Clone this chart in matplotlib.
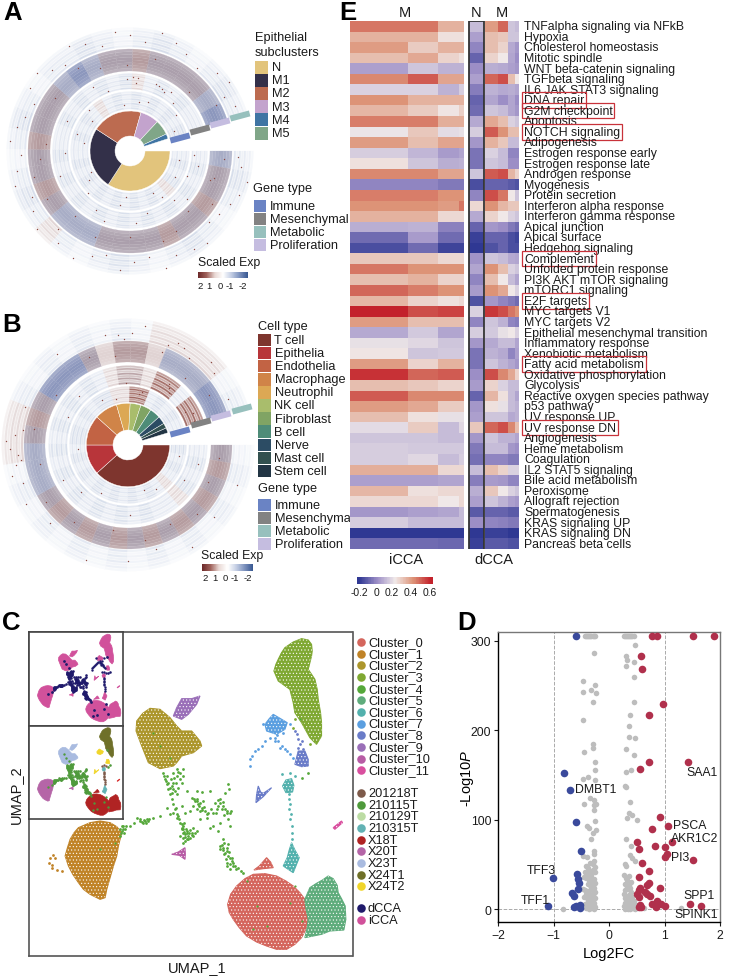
import numpy as np
import matplotlib
matplotlib.use('Agg')
import matplotlib.pyplot as plt
from matplotlib.collections import PatchCollection
from matplotlib.colors import LinearSegmentedColormap
from matplotlib.patches import Polygon, Rectangle, Wedge

plt.rcParams['font.family'] = ['Liberation Sans', 'DejaVu Sans']
plt.rcParams['mathtext.fontset'] = 'custom'
plt.rcParams['mathtext.it'] = 'Liberation Sans:italic'
plt.rcParams['mathtext.rm'] = 'Liberation Sans'
plt.rcParams['hatch.linewidth'] = 0.4

# ---- panel A / B: pie fractions given as boundary angles (deg, clockwise from 0)
epi_names = ['N', 'M1', 'M2', 'M3', 'M4', 'M5']
epi_colors = ['#e2c47c', '#333049', '#bc6b50', '#c3a3cd', '#3f74a3', '#80a688']
epi_order = ['N', 'M1', 'M2', 'M3', 'M5', 'M4']
epi_edges = [0, 123, 213, 286, 313, 335, 342]

cell_names = ['T cell', 'Epithelia', 'Endothelia', 'Macrophage', 'Neutrophil', 'NK cell',
              'Fibroblast', 'B cell', 'Nerve', 'Mast cell', 'Stem cell']
cell_colors = ['#7e352e', '#b8353a', '#c26344', '#d08448', '#dca854', '#a9bd6c',
               '#80a464', '#4e8c78', '#2c4c64', '#32504f', '#223544']
cell_edges = [0, 138, 180, 222, 254, 273, 288, 303, 318, 329, 336, 343]

gene_names = ['Immune', 'Mesenchymal', 'Metabolic', 'Proliferation']
gene_colors = ['#6a83c4', '#828282', '#97c0bd', '#c5bde0']

# ring shades, one letter for each angular bin
shades = {'w': '#eef1f7', 'p': '#e2e7f1', 'l': '#d5dcea', 'b': '#a8adc6', 'd': '#8c97bd',
          'g': '#ab9fac', 'r': '#b59c9f', 's': '#e0d3d3', 'R': '#9a5f58'}

a_immune = 'plplsplplplplplplpplplpsplplplplpl'
a_mesen = 'plplplplplplplplplpplplplplsplplpp'
a_prolif = 'bggrggrggggbbbgrggrgggbdbggrggggbd'
a_metab = 'plpwplpwplpwpsplpwplpwpplpwplpwplp'
b_immune = 'lplpsplplplplplplpllplpllssRRplplp'
b_mesen = 'plplspplplplplplplplplplpsrrsRRpRR'
b_prolif = 'grgrgrgrgrgrgrgbbbgrgdddgsrrsbbbdd'
b_metab = 'wpwpwpwpwpwpwpwpwssspwpwpwpwsssswp'

# row strength, inner row first
row_metab = [0.95, 0.55, 0.85, 0.55, 0.8, 0.45, 0.6, 0.3]
row_prolif = [0.8, 0.9, 0.95, 1.0, 1.0, 0.95, 0.9, 0.8]
row_mesen = [0.9, 0.5, 0.9, 0.6, 0.9, 0.5, 0.8, 0.6]
row_immune = [0.8, 0.6, 0.95, 0.55, 0.85, 0.6, 0.9, 0.6]
row_gaps = {'inner': 0.72, 'dense': 1.0}

a_specks = [(-8, 112), (-22, 118), (-35, 109), (-50, 120), (-66, 114), (-80, 108), (-95, 119), (-110, 112),
            (-128, 117), (-140, 122), (-155, 108), (-170, 115), (-185, 120), (-198, 110), (-212, 118), (-226, 113),
            (-240, 121), (-255, 109), (-270, 116), (-285, 122), (-300, 112), (-318, 117), (-330, 108), (-12, 70),
            (-30, 52), (-48, 66), (-62, 48), (-85, 72), (-100, 55), (-120, 68), (-145, 50), (-160, 74), (-190, 47),
            (-205, 70), (-225, 58), (-240, 74), (-262, 46), (-275, 68), (-290, 52), (-305, 72), (-322, 58),
            (-297, 70), (-294, 71), (-291, 72), (-300, 68), (-175, 90), (-60, 92), (-150, 96), (-250, 88), (-20, 85),
            (-3, 108), (-15, 121), (-28, 113), (-42, 106), (-57, 117), (-73, 122), (-88, 111), (-103, 107),
            (-118, 121), (-133, 106), (-148, 114), (-163, 120), (-178, 109), (-192, 116), (-206, 107), (-220, 122),
            (-233, 108), (-247, 116), (-263, 120), (-278, 110), (-293, 117), (-309, 107), (-325, 121), (-337, 114),
            (-5, 94), (-18, 88), (-33, 98), (-46, 84), (-70, 96), (-90, 86), (-112, 93), (-130, 85), (-165, 99),
            (-185, 84), (-215, 92), (-238, 98), (-268, 86), (-285, 95), (-315, 83), (-332, 97), (-10, 50), (-24, 62),
            (-40, 75), (-55, 56), (-75, 64), (-95, 46), (-110, 75), (-135, 60), (-152, 44), (-178, 65), (-198, 56),
            (-218, 48), (-250, 64), (-280, 50), (-312, 64), (-336, 48), (-4, 64), (-268, 72), (-272, 74), (-276, 73)]
b_specks = [(-20, 116), (-40, 112), (-58, 120), (-75, 108), (-90, 116), (-110, 122), (-135, 110), (-150, 118),
            (-160, 112), (-172, 108), (-178, 118), (-185, 113), (-200, 110), (-232, 116), (-258, 112), (-278, 120),
            (-300, 112), (-315, 118), (-335, 110), (-15, 72), (-32, 66), (-58, 52), (-88, 70), (-120, 55), (-152, 74),
            (-205, 66), (-240, 52), (-268, 62), (-8, 92), (-25, 88), (-45, 98), (-62, 90), (-80, 96), (-100, 86),
            (-125, 94), (-145, 100), (-168, 90), (-190, 95), (-215, 88), (-246, 96), (-262, 90), (-290, 99),
            (-310, 88), (-328, 95), (-165, 120), (-170, 114), (-175, 110), (-182, 122), (-188, 106), (-265, 110),
            (-268, 106), (-272, 112), (-292, 108), (-296, 114), (-305, 106), (-320, 112), (-12, 52), (-70, 48),
            (-135, 66), (-175, 50), (-225, 70), (-255, 48), (-340, 70), (-306, 70), (-308, 66), (-304, 74),
            (-334, 72), (-330, 66), (-282, 52), (-285, 55)]

# ---- panel E
pathways = ['TNFalpha signaling via NFkB', 'Hypoxia', 'Cholesterol homeostasis', 'Mitotic spindle',
            'WNT beta-catenin signaling', 'TGFbeta signaling', 'IL6 JAK STAT3 signaling', 'DNA repair',
            'G2M checkpoint', 'Apoptosis', 'NOTCH signaling', 'Adipogenesis', 'Estrogen response early',
            'Estrogen response late', 'Androgen response', 'Myogenesis', 'Protein secretion',
            'Interferon alpha response', 'Interferon gamma response', 'Apical junction', 'Apical surface',
            'Hedgehog signaling', 'Complement', 'Unfolded protein response', 'PI3K AKT mTOR signaling',
            'mTORC1 signaling', 'E2F targets', 'MYC targets V1', 'MYC targets V2',
            'Epithelial mesenchymal transition', 'Inflammatory response', 'Xenobiotic metabolism',
            'Fatty acid metabolism', 'Oxidative phosphorylation', 'Glycolysis',
            'Reactive oxygen species pathway', 'p53 pathway', 'UV response UP', 'UV response DN',
            'Angiogenesis', 'Heme metabolism', 'Coagulation', 'IL2 STAT5 signaling', 'Bile acid metabolism',
            'Peroxisome', 'Allograft rejection', 'Spermatogenesis', 'KRAS signaling UP', 'KRAS signaling DN',
            'Pancreas beta cells']
boxed = ['DNA repair', 'G2M checkpoint', 'NOTCH signaling', 'Complement', 'E2F targets',
         'Fatty acid metabolism', 'UV response DN']

icca_vals = [[.45, .45, .33, .33], [.33, .33, .22, .22], [.38, .27, .33, .33], [.30, .35, .25, .22],
             [.04, .12, .08, .08], [.42, .50, .36, .36], [.15, .15, .08, .14], [.40, .33, .33, .33],
             [.32, .27, .21, .26], [.44, .44, .34, .34], [.19, .28, .17, .18], [.38, .30, .36, .36],
             [.14, .09, .03, .05], [.22, .12, .07, .08], [.42, .42, .36, .36], [-.02, -.02, -.05, -.05],
             [.44, .44, .40, .40], [.40, .40, .38, .45], [.33, .33, .24, .24], [.07, .08, -.03, -.03],
             [-.08, .03, -.08, -.08], [-.15, -.08, -.17, -.17], [.28, .28, .24, .24], [.45, .40, .40, .40],
             [.30, .33, .25, .25], [.48, .44, .40, .40], [.32, .25, .22, .24], [.60, .52, .54, .54],
             [.38, .30, .30, .30], [.06, .13, .05, .05], [.18, .16, .12, .12], [.21, .12, .13, .13],
             [.38, .25, .33, .33], [.57, .48, .50, .50], [.30, .28, .25, .25], [.50, .42, .42, .42],
             [.38, .35, .27, .27], [.30, .22, .18, .18], [.17, .27, .10, .16], [.12, .12, .10, .10],
             [.14, .13, .13, .13], [.14, .16, .10, .14], [.34, .34, .24, .24], [.04, .04, .05, .05],
             [.32, .22, .24, .24], [.24, .24, .20, .24], [.02, .04, .05, .10], [.14, .10, .10, .10],
             [-.22, -.22, -.22, -.22], [-.08, -.08, -.09, -.09]]
normal_vals = [.10, .04, -.02, -.10, 0, .04, -.04, -.10, -.08, .06, .14, .02, -.06, -.06, .12, -.15, -.02,
               .24, .06, -.10, -.18, -.20, .01, .05, -.02, .03, -.14, .15, -.02, .14, .02, -.06, -.06, 0,
               .03, -.10, .02, .04, .28, .02, -.05, -.07, .10, -.04, .07, .04, -.12, 0, -.20, -.18]
dcca_vals = [[.38, .48, .12, .10], [.30, .28, .12, .12], [.30, .25, .06, .02], [.25, .20, .05, 0],
             [.07, .06, .04, .02], [.48, .52, .30, .20], [.08, .06, .07, .05], [.05, 0, .05, 0],
             [.12, .10, .05, .02], [.35, .30, .15, .12], [.50, .40, .30, .30], [.33, .28, .10, .10],
             [.15, .10, -.02, -.02], [.12, .10, 0, 0], [.50, .52, .32, .25], [-.10, -.10, -.12, -.14],
             [.52, .45, .20, .12], [.40, .32, .28, .28], [.25, .20, .15, .12], [.02, 0, -.05, -.08],
             [-.10, -.10, -.15, -.17], [-.14, -.10, -.15, -.15], [.12, .10, .06, .05], [.40, .30, .15, .12],
             [.30, .20, .10, .05], [.40, .35, .20, .15], [.02, -.02, -.05, -.08], [.56, .52, .45, .40],
             [.12, .08, -.02, -.04], [.13, .18, .20, .15], [.06, .10, .10, .05], [.08, .06, -.02, .04],
             [.12, .08, .05, .02], [.52, .42, .35, .25], [.25, .15, .10, .10], [.32, .22, .10, .05],
             [.22, .18, .10, .08], [.12, .12, .06, .08], [.48, .52, .42, .30], [.12, .08, .08, .05],
             [.10, .10, .02, 0], [-.02, -.02, -.05, -.05], [.30, .25, .15, .15], [.03, .02, -.02, -.02],
             [.28, .20, .15, .12], [.12, .08, .04, .02], [-.10, -.10, -.12, -.12], [-.02, -.03, -.05, -.05],
             [-.18, -.18, -.20, -.20], [-.12, -.12, -.14, -.14]]

# ---- panel C (reference pixel scale, no real units on the axes)
cluster_names = ['Cluster_%d' % i for i in range(12)]
cluster_colors = ['#d4665d', '#c08327', '#ac962c', '#7fa832', '#55a83a', '#5fac7c',
                  '#53b1ad', '#5b9fe0', '#6a7cc8', '#9a6fb8', '#b75ca5', '#d94f9f']
sample_names = ['201218T', '210115T', '210129T', '210315T', 'X18T', 'X20T', 'X23T', 'X24T1', 'X24T2']
sample_colors = ['#7d5a4a', '#4f9a3c', '#bcdca4', '#62b2b4', '#b02323', '#b565a7', '#a9bbe0', '#6f7029', '#f0d52a']
type_names = ['dCCA', 'iCCA']
type_colors = ['#1f1a6b', '#d1519b']

blob_0 = [(760, 795), (795, 793), (830, 800), (858, 815), (880, 830), (900, 850), (915, 870), (925, 900), (925, 930),
          (918, 960), (905, 985), (885, 1005), (860, 1020), (830, 1020), (800, 1010), (770, 998), (740, 980),
          (718, 955), (700, 930), (688, 910), (683, 885), (692, 855), (710, 830), (735, 808)]
blob_0b = [(762, 782), (778, 770), (800, 745), (812, 758), (820, 775), (790, 778)]
blob_1 = [(270, 640), (300, 635), (330, 640), (350, 652), (365, 670), (360, 690), (355, 710), (350, 740), (340, 770),
          (330, 805), (320, 840), (315, 865), (300, 870), (270, 855), (250, 840), (235, 820), (218, 795), (205, 770),
          (195, 740), (202, 715), (210, 690), (222, 670), (235, 655)]
blob_2 = [(450, 297), (480, 300), (510, 325), (530, 350), (545, 365), (575, 365), (600, 395), (605, 410), (580, 430),
          (545, 440), (530, 460), (520, 470), (480, 478), (445, 460), (435, 435), (425, 410), (408, 365), (410, 335),
          (428, 312)]
blob_3 = [(905, 88), (925, 92), (935, 105), (937, 125), (935, 140), (925, 180), (945, 210), (952, 240), (955, 270),
          (962, 310), (965, 340), (965, 380), (950, 405), (930, 385), (905, 340), (885, 310), (880, 280), (870, 240),
          (835, 215), (822, 185), (828, 165), (835, 150), (845, 130), (855, 115), (880, 98)]
blob_5 = [(985, 800), (1000, 808), (1012, 828), (1015, 850), (1025, 868), (1036, 890), (1038, 930), (1032, 962),
          (990, 965), (965, 975), (940, 980), (915, 985), (922, 955), (925, 930), (918, 895), (915, 870), (930, 835),
          (950, 822), (968, 812)]
blob_6a = [(858, 512), (875, 508), (882, 528), (878, 548), (858, 550), (848, 530)]
blob_6b = [(875, 700), (885, 722), (898, 745), (888, 770), (880, 790), (862, 778), (850, 770), (862, 745), (868, 722)]
blob_7 = [(795, 345), (808, 328), (820, 315), (842, 328), (862, 340), (855, 360), (830, 375), (800, 365)]
blob_8a = [(775, 530), (782, 548), (790, 552), (815, 535), (790, 562), (768, 580), (770, 555)]
blob_8b = [(895, 425), (915, 425), (925, 450), (925, 470), (905, 472), (885, 465)]
blob_9 = [(545, 268), (575, 268), (600, 260), (590, 285), (565, 315), (545, 330), (520, 320), (530, 295)]
blob_10 = [(515, 735), (535, 728), (555, 715), (556, 735), (555, 750), (538, 738)]
blob_11 = [(1000, 655), (1025, 635), (1028, 640), (1005, 660)]

trail_1 = [(150, 745), (160, 738), (165, 745), (148, 760), (155, 775), (170, 782), (185, 785), (155, 768)]
trail_4 = [(490, 490), (495, 510), (500, 525), (505, 540), (510, 555), (515, 570), (520, 585), (525, 600),
           (530, 615), (538, 630), (545, 645), (550, 660), (555, 675), (560, 690), (550, 700), (565, 680),
           (575, 670), (590, 665), (580, 655), (520, 490), (530, 500), (540, 510), (520, 520), (535, 535),
           (550, 480), (548, 500), (515, 530), (500, 500), (575, 565), (585, 575), (595, 585), (605, 595),
           (615, 605), (625, 610), (640, 610), (650, 600), (660, 580), (670, 590), (680, 605), (690, 612),
           (660, 570), (675, 550), (685, 525), (688, 540), (630, 545), (605, 548), (620, 625), (640, 650),
           (655, 665), (670, 690), (660, 710), (680, 725), (690, 745), (700, 760), (715, 775), (730, 790),
           (680, 770), (690, 780), (670, 715), (685, 705), (435, 635), (420, 630), (445, 635), (410, 625),
           (460, 625), (480, 620), (390, 650), (370, 650), (365, 665), (375, 660), (360, 680), (520, 610),
           (510, 615), (530, 625), (570, 605), (600, 605), (610, 575), (590, 600), (545, 590), (555, 610),
           (690, 650), (660, 640), (630, 655), (685, 630), (545, 660), (560, 665), (570, 685), (540, 680),
           (580, 680), (600, 628), (500, 595), (560, 545), (590, 545), (550, 650), (558, 658), (568, 672),
           (548, 670), (590, 575), (600, 580), (580, 590), (612, 592), (668, 578), (675, 600), (692, 606),
           (672, 700), (680, 715), (695, 755), (705, 770), (690, 765), (525, 545), (512, 510), (530, 480),
           (540, 490), (370, 658), (362, 672), (440, 628), (430, 640), (925, 490), (905, 505),
           (552, 668), (556, 682), (562, 672), (570, 662), (548, 685), (556, 695), (545, 655), (575, 678), (585, 672),
           (565, 690), (552, 640), (540, 640), (535, 620), (528, 595), (515, 550), (510, 535), (498, 515), (492, 500),
           (505, 520), (522, 505), (535, 488), (528, 520), (545, 520), (518, 540), (530, 555), (582, 568), (592, 568),
           (598, 590), (605, 602), (620, 615), (632, 600), (648, 610), (655, 590), (665, 600), (680, 610), (672, 618),
           (655, 572), (645, 580), (665, 708), (668, 722), (675, 732), (685, 740), (678, 750), (695, 745), (682, 760),
           (700, 770), (708, 778), (722, 785), (660, 720), (672, 735), (688, 728), (365, 650), (378, 650), (372, 670),
           (360, 660), (432, 632), (425, 638), (438, 640), (448, 630), (420, 635), (402, 640)]
trail_6 = [(868, 555), (868, 570), (870, 585), (868, 600), (872, 615), (870, 630), (875, 650), (875, 670),
           (876, 690), (845, 495), (870, 490), (885, 500)]
trail_7 = [(750, 450), (755, 440), (765, 425), (775, 420), (785, 410), (795, 395), (810, 385), (825, 385),
           (835, 395), (845, 410), (860, 425), (870, 435), (880, 445), (790, 345), (850, 370), (870, 345),
           (750, 470), (840, 415), (830, 378), (855, 418), (825, 395)]
trail_8 = [(890, 375), (895, 390), (900, 405), (910, 420), (885, 365), (905, 395), (895, 415), (770, 570)]
trail_3 = [(930, 405), (918, 340), (905, 325), (885, 330), (880, 355)]
green_specks = [(300, 720), (345, 700), (480, 410), (510, 445), (460, 370), (740, 815), (770, 890), (800, 950),
                (870, 880), (760, 960), (905, 935), (885, 830), (900, 330)]

# ---- panel D, values
red_pts = [(.78, 306), (.87, 306), (1.51, 306), (1.90, 306), (.57, 283), (.59, 269), (.98, 229), (.71, 217),
           (.72, 165), (.56, 157), (1.42, 164), (.91, 103), (1.06, 93), (.78, 90), (.51, 75), (.53, 67), (.82, 71),
           (1.0, 69), (1.14, 75), (1.05, 62), (1.01, 58), (1.51, 55), (.59, 52), (.71, 43), (.54, 36), (.71, 29),
           (.68, 27), (.56, 24), (.92, 24), (.53, 21), (.51, 17), (.65, 19), (.68, 17), (.74, 15), (.53, 13),
           (.77, 6), (.86, 9), (.93, 6), (1.0, 3), (.85, 2), (1.46, 6), (1.65, 3), (.56, 4), (.53, 2), (.57, 2)]
blue_pts = [(-.60, 306), (-.81, 152), (-.70, 133), (-.60, 97), (-.50, 65), (-1.02, 35), (-.58, 39), (-.57, 34),
            (-.54, 29), (-.57, 22), (-.67, 18), (-.64, 15), (-1.11, 3), (-.63, 2), (-.60, 3), (-.53, 4), (-.53, 1)]
grey_top = [-.44, -.42, -.40, -.38, -.36, -.34, -.32, -.30, -.28, -.26,
            .26, .28, .30, .32, .34, .36, .38, .40, .42, .44]
grey_pts = [(.47, 296), (-.27, 287), (.30, 283), (.32, 279), (.44, 276), (.31, 272), (.45, 260), (-.47, 255),
            (-.26, 251), (-.33, 245), (-.47, 243), (-.24, 242), (-.29, 232), (.45, 232), (.37, 217), (-.47, 212),
            (.35, 205), (.36, 193), (.47, 191), (-.29, 185), (-.29, 180), (.30, 179), (-.45, 176), (.44, 172),
            (-.25, 165), (.39, 156), (-.25, 156), (.30, 153), (-.39, 148), (-.47, 146), (-.25, 144), (.29, 138),
            (.31, 137), (-.35, 124), (-.27, 122), (-.45, 118), (.38, 120), (-.24, 117), (-.28, 116), (-.27, 111),
            (.35, 107), (.42, 105), (.33, 102), (.50, 100), (-.25, 99), (-.40, 93), (-.36, 91), (-.24, 89),
            (-.29, 85), (-.32, 78), (.30, 78), (.39, 70), (-.27, 65), (-.27, 62), (.38, 60), (-.47, 59), (-.40, 58),
            (.41, 57), (.47, 54), (.28, 50), (.31, 48), (-.84, 0), (1.29, 1)]
grey_low_left = [(-.42, 48), (-.38, 46), (-.35, 52), (-.30, 50), (-.27, 54), (-.25, 47), (-.44, 42), (-.40, 40),
                 (-.36, 43), (-.33, 38), (-.29, 44), (-.26, 41), (-.46, 36), (-.41, 35), (-.37, 33), (-.34, 36),
                 (-.31, 31), (-.28, 34), (-.25, 29), (-.39, 28), (-.35, 27), (-.32, 25), (-.30, 26), (-.27, 23),
                 (-.48, 22), (-.43, 21), (-.38, 20), (-.33, 22), (-.29, 18), (-.26, 19), (-.41, 17), (-.36, 16),
                 (-.31, 15), (-.27, 14), (-.45, 13), (-.40, 12), (-.35, 11), (-.30, 10), (-.26, 12), (-.38, 9),
                 (-.33, 8), (-.28, 7), (-.43, 6), (-.37, 5), (-.32, 4), (-.27, 5), (-.40, 3), (-.35, 2), (-.30, 1),
                 (-.25, 2), (-.42, 1), (-.37, 0), (-.33, 1), (-.28, 0)]
grey_low_right = [(.27, 38), (.30, 35), (.33, 32), (.36, 37), (.39, 30), (.28, 28), (.32, 25), (.35, 27), (.38, 24),
                  (.29, 21), (.34, 22), (.40, 19), (.27, 17), (.31, 15), (.36, 16), (.42, 14), (.29, 12), (.33, 10),
                  (.38, 11), (.45, 9), (.28, 7), (.35, 8), (.41, 6), (.48, 5), (.31, 4), (.37, 3), (.44, 4), (.27, 3),
                  (.33, 2), (.39, 2), (.46, 3), (.30, 1), (.36, 1), (.43, 1), (.28, 0), (.34, 0), (.40, 1), (.50, 2),
                  (.32, 1), (.38, 0), (.62, 1), (.47, 0)]
volcano_labels = [('SAA1', 1.68, 153), ('DMBT1', -.24, 134), ('PSCA', 1.46, 94), ('AKR1C2', 1.54, 80),
                  ('PI3', 1.28, 58), ('TFF3', -1.23, 44), ('TFF1', -1.34, 10.5), ('SPP1', 1.62, 16),
                  ('SPINK1', 1.57, -6)]

W, H = 734, 978
fig = plt.figure(figsize=(W / 100, H / 100), dpi=100)
page = fig.add_axes([0, 0, 1, 1])
page.set_xlim(0, W)
page.set_ylim(0, H)
page.axis('off')


def Y(py):
    return H - py


def px_axes(x0, y0, x1, y1):
    return fig.add_axes([x0 / W, (H - y1) / H, (x1 - x0) / W, (y1 - y0) / H])


def label(x, y, s, size=9.2, **kw):
    kw.setdefault('va', 'center')
    page.text(x, Y(y), s, fontsize=size, color=kw.pop('color', '#1a1a1a'), **kw)


def draw_rings(cx, cy, tracks, specks, sweep=342):
    patches = []
    for r0, r1, strip, rows, fill in tracks:
        step = (r1 - r0) / len(rows)
        bin_w = sweep / len(strip)
        for j, alpha in enumerate(rows):
            for i, ch in enumerate(strip):
                c = np.array(matplotlib.colors.to_rgb(shades[ch]))
                c = 1 - (1 - c) * alpha
                patches.append(Wedge((cx, cy), r0 + step * (j + fill), -(i + 1) * bin_w, -i * bin_w,
                                     width=step * fill, facecolor=c, edgecolor=c, linewidth=0.15))
    page.add_collection(PatchCollection(patches, match_original=True, zorder=2))
    ang = np.radians([s[0] for s in specks])
    rad = np.array([s[1] for s in specks])
    page.scatter(cx + rad * np.cos(ang), cy + rad * np.sin(ang), s=1.0, color='#8e4a42', linewidths=0, zorder=3)


def draw_pie(cx, cy, r, hole, edges, colors):
    for k, col in enumerate(colors):
        page.add_patch(Wedge((cx, cy), r, -edges[k + 1], -edges[k], width=r - hole, facecolor=col,
                             edgecolor='white', linewidth=0.3, zorder=4))


def draw_tags(centers):
    for (x, y), col in zip(centers, [gene_colors[0], gene_colors[1], gene_colors[3], gene_colors[2]]):
        a = np.radians(15)
        ux, uy = np.cos(a) * 10, np.sin(a) * 10
        vx, vy = -np.sin(a) * 3, np.cos(a) * 3
        yy = Y(y)
        page.add_patch(Polygon([(x - ux - vx, yy - uy - vy), (x + ux - vx, yy + uy - vy),
                                (x + ux + vx, yy + uy + vy), (x - ux + vx, yy - uy + vy)],
                               facecolor=col, edgecolor='none', zorder=4))


def swatches(x, y0, dy, names, colors, size=12, tx=None, fs=9.2):
    for i, (n, c) in enumerate(zip(names, colors)):
        page.add_patch(Rectangle((x, Y(y0 + i * dy + size / 2)), size, size, facecolor=c, edgecolor='none'))
        label(x + size + 4 if tx is None else tx, y0 + i * dy, n, size=fs)


exp_cmap = LinearSegmentedColormap.from_list('exp', ['#6e2b2b', '#a0635c', '#e8d8d4', '#ffffff',
                                                     '#c5cfe4', '#7f94bf', '#3b5a93'])


def scaled_bar(x0, x1, y0, y1, ticks_x, tick_y, title_x, title_y):
    ax = px_axes(x0, y0, x1, y1)
    ax.pcolormesh(np.linspace(0, 1, 51), [0, 1], np.linspace(0, 1, 50)[None, :], cmap=exp_cmap, vmin=0, vmax=1)
    ax.axis('off')
    label(title_x, title_y, 'Scaled Exp', size=8.8)
    for tx, s in zip(ticks_x, ['2', '1', '0', '-1', '-2']):
        label(tx, tick_y, s, size=6.8, ha='center')


# panel A
cxa, cya = 130, Y(152)
draw_rings(cxa, cya, [(42, 60, a_immune, row_immune, row_gaps['inner']), (62, 78, a_mesen, row_mesen, row_gaps['inner']),
                      (80, 102, a_prolif, row_prolif, row_gaps['dense']), (104, 124, a_metab, row_metab, row_gaps['inner'])],
           a_specks)
draw_pie(cxa, cya, 40, 15, epi_edges, [epi_colors[epi_names.index(n)] for n in epi_order])
draw_tags([(180, 139), (200, 131), (220, 124), (240, 117)])
label(255, 38, 'Epithelial')
label(255, 53, 'subclusters')
swatches(255, 68, 13.2, epi_names, epi_colors, size=13)
label(253, 189, 'Gene type')
swatches(254, 207, 13, gene_names, gene_colors, size=12)
scaled_bar(198, 248, 273, 279, [200, 209, 220, 230, 243], 287, 198, 263)

# panel B
cxb, cyb = 128, Y(446)
draw_rings(cxb, cyb, [(43, 59, b_immune, row_immune, row_gaps['inner']), (61, 80, b_mesen, row_mesen, row_gaps['inner']),
                      (83, 104, b_prolif, row_prolif, row_gaps['dense']), (105, 127, b_metab, row_metab, row_gaps['inner'])],
           b_specks)
draw_pie(cxb, cyb, 41.7, 15, cell_edges, cell_colors)
draw_tags([(180, 433), (201, 424), (221, 417), (242, 410)])
label(258, 327, 'Cell type')
swatches(258, 341, 13.1, cell_names, cell_colors, size=12.5)
label(258, 489, 'Gene type')
swatches(258, 506, 13, gene_names, gene_colors, size=12.5)
scaled_bar(202, 253, 565, 572, [205, 215, 225, 235, 248], 579, 201, 556)

# panel E
heat_cmap = LinearSegmentedColormap.from_list('heat', [(0, '#2f3893'), (0.25, '#9c8ec6'), (0.5, '#f0e9e9'),
                                                       (0.75, '#dd9478'), (1, '#c3212b')])
icca_edges = [350, 408, 438, 459, 464]
dcca_edges = [485, 498, 508, 515, 519]
top, bottom = 22, 550
row_edges = np.linspace(top, bottom, len(pathways) + 1)
eax = px_axes(348, top, 522, bottom)
eax.set_xlim(348, 522)
eax.set_ylim(bottom, top)
eax.axis('off')
eax.pcolormesh(icca_edges, row_edges, np.array(icca_vals), cmap=heat_cmap, vmin=-.2, vmax=.6)
eax.pcolormesh([469, 484], row_edges, np.array(normal_vals)[:, None], cmap=heat_cmap, vmin=-.2, vmax=.6)
eax.pcolormesh(dcca_edges, row_edges, np.array(dcca_vals), cmap=heat_cmap, vmin=-.2, vmax=.6)
eax.add_patch(Rectangle((468.5, top - .5), 15.5, bottom - top + 1, fill=False, edgecolor='#333333', linewidth=1.3))
for name, y in zip(pathways, (row_edges[:-1] + row_edges[1:]) / 2):
    box = dict(facecolor='none', edgecolor='#c8323a', linewidth=0.9, pad=1.2) if name in boxed else None
    label(524, y, name, size=8.8, bbox=box)
label(405, 13, 'M', size=10.5, ha='center')
label(476, 13, 'N', size=10.5, ha='center')
label(502, 13, 'M', size=10.5, ha='center')
label(406, 560, 'iCCA', size=10.5, ha='center')
label(494, 560, 'dCCA', size=10.5, ha='center')
cbar = px_axes(357, 578, 433, 585)
cbar.pcolormesh(np.linspace(-.22, .62, 101), [0, 1], np.linspace(-.22, .62, 100)[None, :], cmap=heat_cmap,
                vmin=-.2, vmax=.6)
cbar.axis('off')
for tick, x in zip(['-0.2', '0', '0.2', '0.4', '0.6'], [359, 376, 392, 411, 430]):
    label(x, 593, tick, size=7.4, ha='center')

# panel C
blobs = [(blob_0, 0), (blob_0b, 0), (blob_1, 1), (blob_2, 2), (blob_3, 3), (blob_5, 5), (blob_6a, 6), (blob_6b, 6),
         (blob_7, 7), (blob_8a, 8), (blob_8b, 8), (blob_9, 9), (blob_10, 10), (blob_11, 11)]
trails = [(trail_1, 1), (trail_3, 3), (trail_4, 4), (trail_6, 6), (trail_7, 7), (trail_8, 8)]
uax = px_axes(29.5, 633, 352.5, 957)
uax.set_xlim(88, 1058)
uax.set_ylim(1040, 68)
uax.set_xticks([])
uax.set_yticks([])
for s in uax.spines.values():
    s.set_color('#555555')
    s.set_linewidth(1.2)
for poly, k in blobs:
    uax.add_patch(Polygon(poly, closed=True, facecolor=cluster_colors[k], edgecolor=cluster_colors[k], linewidth=0.8))
    # stipple so the filled shapes read as dense dots
    uax.add_patch(Polygon(poly, closed=True, fill=False, hatch='.....', edgecolor='white', linewidth=0))
for pts, k in trails:
    uax.scatter(*zip(*pts), s=4, color=cluster_colors[k], linewidths=0)
uax.scatter(*zip(*green_specks), s=2.5, color=cluster_colors[4], linewidths=0)

top_inset = px_axes(29.5, 633, 122.5, 726.5)
low_inset = px_axes(29.5, 726.5, 122.5, 820)
low_colors = {0: '#b02323', 1: '#b565a7', 2: '#a9bbe0', 3: '#6f7029', 5: '#b02323', 6: '#62b2b4', 7: '#f0d52a',
              8: '#f0d52a', 9: '#a9bbe0', 10: '#b565a7', 11: '#d83030'}
for ax, inset_name in [(top_inset, 'type'), (low_inset, 'sample')]:
    ax.set_facecolor('white')
    ax.set_xlim(115, 1055)
    ax.set_ylim(1060, 65)
    ax.set_xticks([])
    ax.set_yticks([])
    for s in ax.spines.values():
        s.set_color('#444444')
        s.set_linewidth(1.2)
    for poly, k in blobs:
        col = type_colors[1] if inset_name == 'type' else low_colors[k]
        ax.add_patch(Polygon(poly, closed=True, facecolor=col, edgecolor=col, linewidth=0.5))
    trail_col = type_colors[0] if inset_name == 'type' else sample_colors[1]
    ax.scatter(*zip(*trail_4), s=3.5, color=trail_col, linewidths=0)
    if inset_name == 'type':
        ax.scatter(*zip(*trail_7), s=3, color=trail_col, linewidths=0)
        ax.scatter(*zip(*trail_6), s=3, color=trail_col, linewidths=0)
        ax.scatter(*zip(*green_specks), s=4, color=trail_col, linewidths=0)
    else:
        ax.scatter(*zip(*trail_6), s=3, color='#7d5a4a', linewidths=0)
        ax.scatter(*zip(*green_specks), s=3, color=sample_colors[1], linewidths=0)

label(197, 968, 'UMAP_1', size=10.5, ha='center')
label(16, 795, 'UMAP_2', size=10.5, ha='center', rotation=90)
for names, colors, y0 in [(cluster_names, cluster_colors, 643), (sample_names, sample_colors, 794),
                          (type_names, type_colors, 909)]:
    for i, (n, c) in enumerate(zip(names, colors)):
        page.scatter([361], [Y(y0 + i * 11.65)], s=38, color=c, linewidths=0)
        label(368, y0 + i * 11.65, n, size=9.2)

# panel D
vax = px_axes(498.3, 633, 720, 923)
vax.set_xlim(-2, 2)
vax.set_ylim(-14.5, 310)
vax.axvline(-1, color='#aaaaaa', ls='--', lw=0.7, zorder=0)
vax.axvline(1, color='#aaaaaa', ls='--', lw=0.7, zorder=0)
vax.axhline(0, color='#aaaaaa', ls='--', lw=0.7, zorder=0)
vax.scatter(grey_top, [306] * len(grey_top), s=16, color='#bdbdbd', linewidths=0, zorder=2)
for group in (grey_pts, grey_low_left, grey_low_right):
    vax.scatter(*zip(*group), s=16, color='#bdbdbd', linewidths=0, zorder=2)
vax.scatter(*zip(*blue_pts), s=30, color='#3a4a9c', linewidths=0, zorder=3)
vax.scatter(*zip(*red_pts), s=30, color='#b0304c', linewidths=0, zorder=3)
for name, x, y in volcano_labels:
    vax.text(x, y, name, fontsize=8.8, ha='center', va='center', color='#1a1a1a')
vax.set_xticks([-2, -1, 0, 1, 2])
vax.set_yticks([0, 100, 200, 300])
vax.tick_params(labelsize=8.8, length=3, width=0.8, pad=2, colors='#1a1a1a')
for side in ['top', 'right']:
    vax.spines[side].set_color('#777777')
for s in vax.spines.values():
    s.set_linewidth(1.0)
vax.set_xlabel('Log2FC', fontsize=10.5, labelpad=4)
vax.set_ylabel('-Log10$\\mathit{P}$', fontsize=10.5, labelpad=-4)

# panel letters
for s, x, y in [('A', 3, 13), ('B', 2, 325), ('C', 2, 623), ('D', 457, 623), ('E', 339, 13)]:
    label(x, y, s, size=18.5, fontweight='bold', color='black')

fig.savefig('out.png', dpi=100)
